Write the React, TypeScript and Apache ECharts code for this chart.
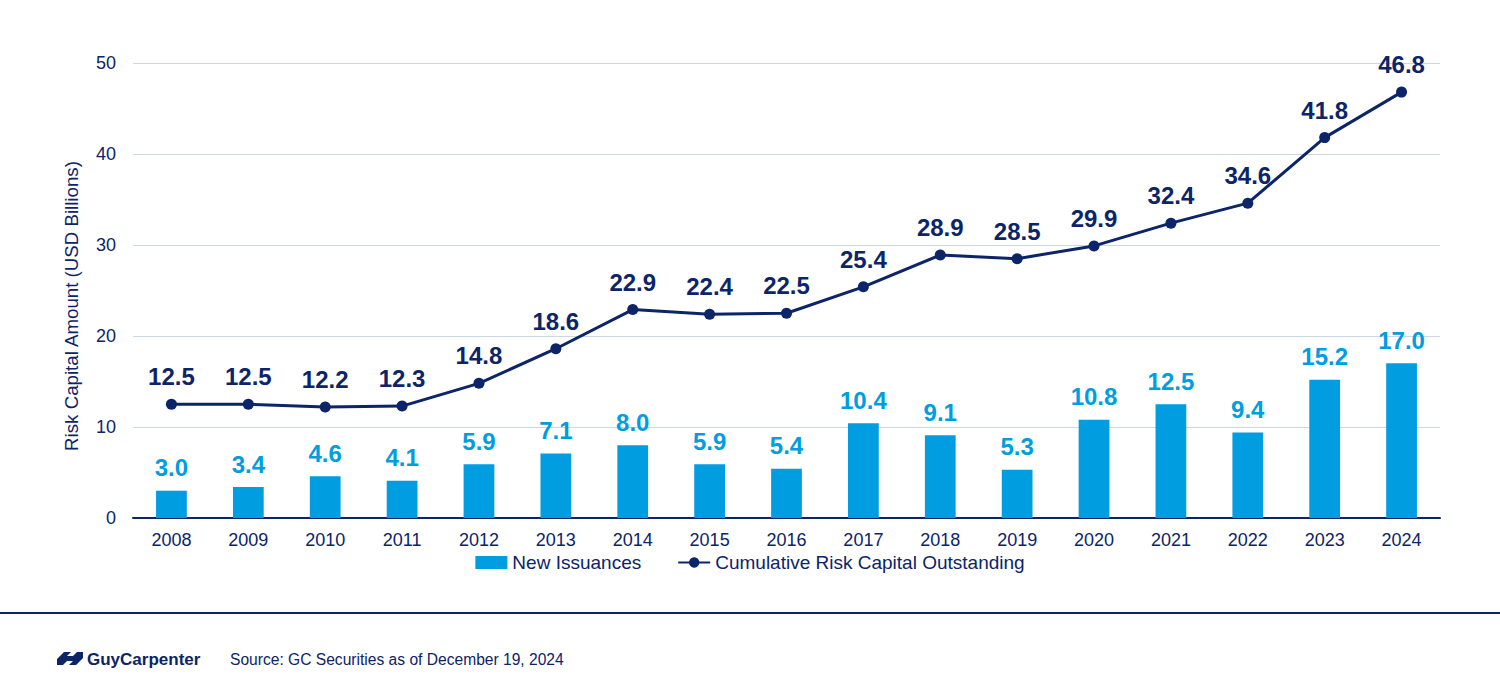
import React, { useEffect, useRef } from "react";
import * as echarts from "echarts";

const years = ["2008","2009","2010","2011","2012","2013","2014","2015","2016","2017","2018","2019","2020","2021","2022","2023","2024"];
const newIssuances = [3.0,3.4,4.6,4.1,5.9,7.1,8.0,5.9,5.4,10.4,9.1,5.3,10.8,12.5,9.4,15.2,17.0];
const cumulative = [12.5,12.5,12.2,12.3,14.8,18.6,22.9,22.4,22.5,25.4,28.9,28.5,29.9,32.4,34.6,41.8,46.8];

const NAVY = "#0c2468";
const BLUE = "#009de0";
const FONT = "Arial, 'Liberation Sans', Helvetica, sans-serif";

echarts.graphic.registerShape(
  "gclogo",
  echarts.graphic.extendPath(
    "M0,7 L7,0 L14,0 L10,4 L16,4 L20,0 L26,0 L26,6 L19,13 L12,13 L16,9 L10,9 L6,13 L0,13 Z",
    {}
  )
);

export default function App() {
  const ref = useRef<HTMLDivElement>(null);
  useEffect(() => {
    const chart = echarts.init(ref.current!, null, { renderer: "svg" });
    chart.setOption({
      animation: false,
      backgroundColor: "#ffffff",
      textStyle: { fontFamily: FONT },
      grid: { left: 133, right: 60, top: 63, bottom: 176 },
      legend: {
        bottom: 117,
        left: "center",
        itemGap: 36,
        itemWidth: 32,
        itemHeight: 13,
        textStyle: { color: NAVY, fontSize: 19, fontFamily: FONT },
        data: [
          { name: "New Issuances", icon: "rect" },
          { name: "Cumulative Risk Capital Outstanding" },
        ],
      },
      xAxis: {
        type: "category",
        data: years,
        axisTick: { show: false },
        axisLine: { lineStyle: { color: NAVY, width: 2 } },
        axisLabel: { color: NAVY, fontSize: 18, margin: 13, fontFamily: FONT },
      },
      yAxis: {
        type: "value",
        min: 0,
        max: 50,
        interval: 10,
        axisLabel: { color: NAVY, fontSize: 18, margin: 17, fontFamily: FONT },
        splitLine: { lineStyle: { color: "#c9d8e2", width: 1 } },
        axisLine: { show: false },
        axisTick: { show: false },
      },
      series: [
        {
          name: "New Issuances",
          type: "bar",
          data: newIssuances,
          barWidth: "40%",
          itemStyle: { color: BLUE },
          label: {
            show: true,
            position: "top",
            distance: 11,
            color: BLUE,
            fontSize: 24,
            fontWeight: "bold",
            fontFamily: FONT,
            formatter: (p: any) => p.value.toFixed(1),
          },
        },
        {
          name: "Cumulative Risk Capital Outstanding",
          type: "line",
          data: cumulative,
          symbol: "circle",
          symbolSize: 11,
          lineStyle: { color: NAVY, width: 3 },
          itemStyle: { color: NAVY },
          label: {
            show: true,
            position: "top",
            distance: 10,
            color: NAVY,
            fontSize: 24,
            fontWeight: "bold",
            fontFamily: FONT,
            formatter: (p: any) => p.value.toFixed(1),
          },
        },
      ],
      graphic: [
        {
          type: "text",
          x: 71,
          y: 306,
          rotation: Math.PI / 2,
          style: {
            text: "Risk Capital Amount (USD Billions)",
            fill: NAVY,
            font: `18.7px ${FONT}`,
            align: "center",
            verticalAlign: "middle",
          },
        },
        {
          type: "line",
          shape: { x1: 0, y1: 613, x2: 1500, y2: 613 },
          style: { stroke: NAVY, lineWidth: 2 },
        },
        {
          type: "gclogo",
          x: 57,
          y: 652,
          scaleX: 1,
          scaleY: 1,
          style: { fill: NAVY },
        },
        {
          type: "text",
          x: 87,
          y: 659,
          style: {
            text: "GuyCarpenter",
            fill: NAVY,
            font: `600 17px ${FONT}`,
            verticalAlign: "middle",
          },
        },
        {
          type: "text",
          x: 230,
          y: 659,
          style: {
            text: "Source: GC Securities as of December 19, 2024",
            fill: NAVY,
            font: `15.6px ${FONT}`,
            verticalAlign: "middle",
          },
        },
      ],
    });
    return () => chart.dispose();
  }, []);
  return <div ref={ref} style={{ width: 1500, height: 694, position: "absolute", left: 0, top: 0 }} />;
}
